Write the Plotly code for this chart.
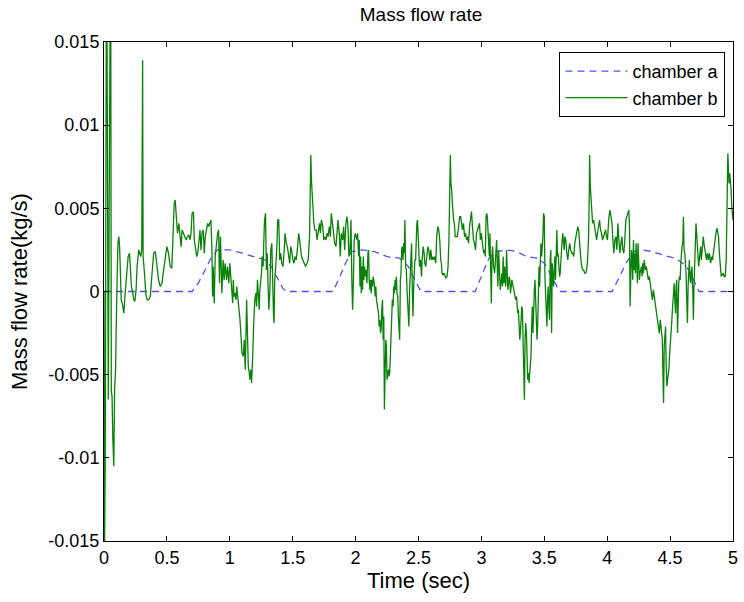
import numpy as np
import plotly.graph_objects as go

# ---- chamber a (kg/s) ----
a_time = [0.00, 0.70, 0.75, 0.80, 0.85, 0.90, 0.95, 1.00, 1.10, 1.20, 1.28, 1.33,
          1.38, 1.42, 1.45, 1.82, 1.87, 1.92, 1.97, 2.05, 2.15, 2.25, 2.35, 2.42,
          2.47, 2.52, 2.95, 3.00, 3.06, 3.12, 3.20, 3.28, 3.36, 3.44, 3.50, 3.56,
          3.62, 4.04, 4.10, 4.15, 4.21, 4.28, 4.36, 4.44, 4.54, 4.60, 4.65, 4.70,
          4.73, 5.00]
a_flow = [0.0, 0.0, 0.0005, 0.0013, 0.0020, 0.0025, 0.0025, 0.0025, 0.0023, 0.0021,
          0.0019, 0.0015, 0.0008, 0.0002, 0.0, 0.0, 0.0008, 0.0017, 0.0024, 0.0025,
          0.0024, 0.0021, 0.0020, 0.0015, 0.0007, 0.0, 0.0, 0.0009, 0.0020, 0.0024,
          0.0025, 0.0024, 0.0021, 0.0020, 0.0017, 0.0009, 0.0, 0.0, 0.0009, 0.0017,
          0.0024, 0.0025, 0.0024, 0.0022, 0.0020, 0.0017, 0.0013, 0.0005, 0.0, 0.0]

# ---- chamber b (g/s, converted to kg/s below) ----
b_time = [
    0.000, 0.004, 0.010, 0.018, 0.024, 0.028, 0.034, 0.048, 0.054, 0.058, 0.064, 0.070,
    0.078, 0.084, 0.092, 0.097, 0.100, 0.105, 0.111, 0.118, 0.124, 0.132, 0.137, 0.145,
    0.153, 0.158, 0.166, 0.176, 0.184, 0.192, 0.203, 0.211, 0.218, 0.229, 0.237, 0.245,
    0.255, 0.263, 0.276, 0.284, 0.292, 0.300, 0.304, 0.307, 0.311, 0.316, 0.324, 0.332,
    0.342, 0.355, 0.368, 0.382, 0.395, 0.408, 0.421, 0.434, 0.447, 0.461, 0.474, 0.487,
    0.500, 0.513, 0.526, 0.539, 0.547, 0.558, 0.566, 0.574, 0.584, 0.595, 0.605, 0.613,
    0.621, 0.632, 0.642, 0.653, 0.663, 0.674, 0.684, 0.692, 0.700, 0.711, 0.718, 0.726,
    0.737, 0.745, 0.755, 0.763, 0.771, 0.779, 0.789, 0.797, 0.805, 0.816, 0.824, 0.832,
    0.842, 0.850, 0.858, 0.863, 0.868, 0.876, 0.884, 0.895, 0.903, 0.911, 0.918, 0.926,
    0.937, 0.947, 0.955, 0.963, 0.974, 0.982, 0.992, 1.000,
    1.010, 1.015, 1.023, 1.028, 1.034, 1.041, 1.049, 1.055, 1.065, 1.076, 1.081, 1.089,
    1.097, 1.107, 1.115, 1.123, 1.128, 1.134, 1.139, 1.147, 1.155, 1.160, 1.168, 1.173,
    1.181, 1.186, 1.191, 1.199, 1.207, 1.213, 1.220, 1.228, 1.234, 1.239, 1.244, 1.252,
    1.257, 1.265, 1.270, 1.276, 1.284, 1.291, 1.297, 1.305, 1.310, 1.318, 1.326, 1.334,
    1.339, 1.347, 1.352, 1.357, 1.365, 1.373, 1.381, 1.389, 1.397, 1.405, 1.413, 1.423,
    1.431, 1.439, 1.449, 1.457, 1.465, 1.476, 1.484, 1.491, 1.502, 1.510, 1.518, 1.528,
    1.539, 1.547, 1.555, 1.563, 1.570, 1.581, 1.591, 1.602, 1.613, 1.623, 1.634, 1.639,
    1.644, 1.649, 1.655, 1.660, 1.668, 1.676, 1.686, 1.694, 1.702, 1.713, 1.720, 1.728,
    1.739, 1.747, 1.755, 1.765, 1.773, 1.781, 1.791, 1.799, 1.807, 1.818, 1.826, 1.834,
    1.844, 1.852, 1.860, 1.870, 1.878, 1.886, 1.897, 1.905, 1.913, 1.923, 1.931, 1.939,
    1.947, 1.955, 1.963, 1.970, 1.976, 1.981, 1.989, 1.997, 2.005,
    2.011, 2.016, 2.024, 2.029, 2.035, 2.040, 2.045, 2.050, 2.056, 2.061, 2.066, 2.071,
    2.077, 2.082, 2.090, 2.098, 2.103, 2.108, 2.114, 2.119, 2.124, 2.129, 2.135, 2.140,
    2.148, 2.156, 2.161, 2.166, 2.174, 2.182, 2.187, 2.192, 2.198, 2.203, 2.208, 2.214,
    2.219, 2.224, 2.229, 2.235, 2.240, 2.245, 2.250, 2.256, 2.261, 2.266, 2.271, 2.277,
    2.282, 2.287, 2.292, 2.298, 2.303, 2.308, 2.314, 2.319, 2.324, 2.329, 2.335, 2.340,
    2.345, 2.350, 2.356, 2.361, 2.366, 2.371, 2.377, 2.382, 2.387, 2.392, 2.398, 2.403,
    2.411, 2.419, 2.424, 2.429, 2.435, 2.440, 2.445, 2.450, 2.456, 2.461, 2.466, 2.471,
    2.477, 2.482, 2.487, 2.492, 2.498, 2.503, 2.508, 2.516, 2.524, 2.529, 2.537, 2.545,
    2.550, 2.558, 2.566, 2.574, 2.582, 2.590, 2.598, 2.606, 2.614, 2.621, 2.629, 2.637,
    2.645, 2.653, 2.661, 2.669, 2.677, 2.682, 2.687, 2.695, 2.703, 2.711, 2.719, 2.727,
    2.735, 2.742, 2.748, 2.753, 2.758, 2.764, 2.769, 2.774, 2.779, 2.785, 2.792, 2.800,
    2.808, 2.819, 2.827, 2.835, 2.842, 2.850, 2.858, 2.866, 2.874, 2.882, 2.890, 2.898,
    2.906, 2.914, 2.921, 2.929, 2.937, 2.945, 2.953, 2.961, 2.969, 2.977, 2.985, 2.992,
    3.000, 3.008,
    3.013, 3.018, 3.026, 3.031, 3.037, 3.042, 3.047, 3.052, 3.058, 3.063, 3.068, 3.073,
    3.079, 3.084, 3.089, 3.097, 3.105, 3.110, 3.116, 3.121, 3.126, 3.131, 3.137, 3.142,
    3.150, 3.158, 3.163, 3.168, 3.173, 3.179, 3.184, 3.189, 3.194, 3.200, 3.205, 3.210,
    3.216, 3.221, 3.226, 3.231, 3.237, 3.242, 3.247, 3.255, 3.263, 3.268, 3.273, 3.279,
    3.284, 3.289, 3.294, 3.300, 3.305, 3.310, 3.316, 3.321, 3.326, 3.331, 3.337, 3.342,
    3.347, 3.352, 3.358, 3.363, 3.368, 3.373, 3.379, 3.384, 3.389, 3.394, 3.400, 3.405,
    3.410, 3.416, 3.421, 3.426, 3.431, 3.437, 3.442, 3.447, 3.452, 3.458, 3.463, 3.468,
    3.473, 3.479, 3.484, 3.489, 3.494, 3.500, 3.505, 3.510, 3.516, 3.521, 3.526, 3.531,
    3.537, 3.542, 3.547, 3.552, 3.558, 3.563, 3.568, 3.573, 3.579, 3.584, 3.589, 3.594,
    3.600, 3.605, 3.610, 3.616, 3.621, 3.626, 3.631, 3.637, 3.642, 3.647, 3.652, 3.658,
    3.663, 3.671, 3.679, 3.687, 3.694, 3.702, 3.710, 3.718, 3.726, 3.734, 3.742, 3.750,
    3.758, 3.766, 3.773, 3.781, 3.789, 3.797, 3.805, 3.813, 3.821, 3.829, 3.837, 3.844,
    3.852, 3.858, 3.860, 3.866, 3.871, 3.876, 3.884, 3.892, 3.900, 3.908, 3.916, 3.923,
    3.931, 3.939, 3.947, 3.955, 3.963, 3.971, 3.979, 3.987, 3.994, 4.002,
    4.014, 4.022, 4.030, 4.038, 4.045, 4.053, 4.061, 4.069, 4.077, 4.085, 4.093, 4.101,
    4.109, 4.117, 4.124, 4.132, 4.140, 4.148, 4.156, 4.164, 4.172, 4.177, 4.182, 4.188,
    4.193, 4.198, 4.203, 4.209, 4.214, 4.219, 4.224, 4.230, 4.235, 4.240, 4.245, 4.251,
    4.256, 4.261, 4.267, 4.272, 4.277, 4.282, 4.288, 4.295, 4.303, 4.311, 4.319, 4.327,
    4.335, 4.343, 4.351, 4.359, 4.367, 4.374, 4.382, 4.390, 4.398, 4.406, 4.414, 4.422,
    4.427, 4.432, 4.438, 4.443, 4.448, 4.453, 4.459, 4.464, 4.469, 4.474, 4.480, 4.485,
    4.490, 4.495, 4.501, 4.506, 4.511, 4.517, 4.522, 4.527, 4.532, 4.538, 4.543, 4.548,
    4.553, 4.559, 4.564, 4.569, 4.574, 4.580, 4.585, 4.590, 4.595, 4.601, 4.606, 4.611,
    4.617, 4.622, 4.627, 4.632, 4.638, 4.643, 4.648, 4.653, 4.659, 4.664, 4.669, 4.674,
    4.680, 4.685, 4.690, 4.695, 4.701, 4.706, 4.711, 4.717, 4.722, 4.727, 4.732, 4.738,
    4.743, 4.748, 4.753, 4.759, 4.764, 4.769, 4.774, 4.780, 4.785, 4.790, 4.795, 4.801,
    4.806, 4.811, 4.817, 4.822, 4.827, 4.832, 4.838, 4.843, 4.848, 4.853, 4.859, 4.864,
    4.869, 4.874, 4.880, 4.885, 4.890, 4.895, 4.901, 4.906, 4.914, 4.922, 4.930, 4.938,
    4.946, 4.953, 4.959, 4.964, 4.969, 4.974, 4.980, 4.985, 4.990, 4.995, 5.000,
]
b_flow_gps = [
    0.0, -16.0, -10.0, 16.0, 16.0, -6.0, -6.5, 16.0, 16.0, -6.0, -6.3, -8.8,
    -10.5, -5.9, -4.7, -2.3, 0.5, 1.1, 2.9, 3.3, 2.7, 1.1, -0.5, -0.7,
    -1.1, -1.3, -0.3, 0.7, 1.1, 2.1, 2.3, 1.1, 0.3, -0.1, -0.5, -0.6,
    0.1, 1.5, 2.5, 2.3, 2.1, 2.5, 13.9, 13.9, 2.1, 1.3, 0.9, -0.1,
    -0.5, -0.5, -0.3, 1.1, 2.3, 2.4, 1.5, 0.7, 0.3, 0.5, 1.3, 2.1,
    2.7, 2.3, 1.5, 1.4, 2.7, 5.3, 5.5, 4.5, 3.5, 4.1, 3.1, 2.7,
    3.7, 3.5, 3.3, 3.1, 3.3, 3.4, 3.1, 3.5, 4.7, 4.8, 3.1, 2.5,
    2.1, 2.3, 3.1, 3.7, 2.5, 3.5, 3.7, 2.3, 3.3, 3.7, 4.1, 3.9,
    4.2, 4.3, 2.5, -0.3, 1.5, -0.7, 2.1, 3.1, 3.5, 3.7, 0.5, 3.3,
    -0.1, 1.9, 0.7, 1.7, 0.7, 1.5, 0.5, 1.7,
    0.7, -0.1, -0.7, 0.7, -0.3, -0.1, -0.5, 0.3, -0.3, -1.3, -1.7, -2.9,
    -3.7, -3.9, -2.9, -4.7, -2.1, -0.5, -2.1, -4.5, -4.9, -5.3, -4.7, -5.5,
    -4.1, -2.1, -1.7, -0.5, -0.1, -0.9, 0.7, -0.3, -1.1, 0.1, 0.5, 1.1,
    2.1, 1.5, 2.9, 4.3, 4.7, 1.3, 2.3, 0.7, -1.1, -0.1, 2.5, 2.9,
    0.7, -1.3, -1.9, 0.7, 1.5, 2.5, 4.3, 4.3, 1.9, 2.3, 1.7, 1.5,
    2.3, 3.5, 2.9, 2.7, 2.3, 1.7, 2.7, 2.5, 1.9, 1.7, 2.1, 1.9,
    2.7, 3.5, 3.1, 2.3, 2.1, 1.9, 1.7, 1.5, 1.7, 1.9, 3.3, 5.1,
    8.2, 6.7, 5.5, 4.5, 4.1, 3.7, 3.7, 3.1, 3.7, 4.1, 3.5, 4.3,
    3.9, 3.1, 3.3, 3.1, 3.5, 3.3, 3.9, 3.3, 4.7, 4.1, 3.5, 2.9,
    2.7, 3.7, 4.3, 3.5, 2.1, 3.5, 3.1, 3.9, 2.5, 4.1, 4.5, 3.9,
    2.1, 2.3, 4.3, 0.7, -1.1, 0.1, 3.1, 3.5, 3.1,
    3.1, 3.5, 2.1, 3.1, 0.3, 2.1, -0.1, 1.5, 0.1, 2.1, 0.7, 1.5,
    0.9, 1.3, 0.5, 2.3, 2.5, 0.7, 0.1, 0.7, -0.1, 0.7, 0.3, 0.9,
    0.5, -0.3, 0.3, -0.5, -0.9, -1.3, -2.1, -1.7, -2.5, -2.3, -1.1, -0.5,
    -2.9, -1.5, -7.1, -4.5, -2.9, -3.3, -5.3, -4.9, -4.7, -5.1, -4.9, -3.7,
    -2.7, -1.3, -0.5, -0.9, 0.3, -0.1, 0.7, 0.1, 0.9, -0.1, -0.3, -1.5,
    -2.7, -2.9, 0.7, 1.1, 2.5, 2.7, 1.9, 2.9, 2.3, 4.3, 1.5, 1.3,
    -0.3, -1.7, -2.1, 0.1, 1.3, 1.5, 2.9, 0.5, -1.5, 0.1, 1.1, 1.9,
    1.9, 3.9, 4.1, 4.3, 3.1, 1.5, 1.5, 1.9, 0.9, 1.9, 2.7, 2.3,
    1.7, 1.5, 2.1, 2.7, 2.5, 1.9, 2.5, 1.9, 2.1, 1.9, 2.1, 1.7,
    3.3, 3.9, 3.7, 3.1, 1.9, 1.7, 1.1, 1.0, 1.1, 0.9, 0.8, 0.9,
    1.5, 3.1, 5.1, 8.2, 6.5, 6.1, 5.3, 4.3, 4.3, 4.1, 3.3, 3.3,
    3.3, 3.9, 4.5, 4.5, 4.1, 3.7, 4.1, 3.3, 3.5, 3.1, 3.3, 2.9,
    3.9, 4.5, 4.8, 3.9, 3.1, 2.9, 2.5, 3.5, 3.7, 3.9, 4.1, 3.1,
    3.5, 2.9,
    2.7, 2.3, 2.5, 2.1, 4.5, 4.7, 4.5, 3.9, 3.1, 2.1, 3.5, 0.3,
    -0.7, 2.1, 2.7, 1.5, 1.1, 1.7, 2.7, 3.1, 1.5, 0.3, 2.5, 1.3,
    0.1, 0.7, 1.1, 0.3, 2.1, 0.5, 1.5, 0.7, 0.3, 2.5, 1.3, 0.1,
    0.5, 0.9, 0.7, -0.1, 0.3, 0.7, 0.5, 0.1, -0.1, -0.3, -0.5, -0.3,
    -0.9, -1.3, -1.1, -2.3, -2.9, -2.5, -1.5, -0.9, -1.1, -2.5, -3.7, -6.5,
    -2.9, -1.9, -2.5, -3.9, -5.3, -4.9, -5.5, -4.9, -4.5, -3.9, -1.9, -0.9,
    -2.5, -0.3, 0.1, 0.7, -0.9, -1.5, -2.9, -2.1, 0.7, 1.5, 0.3, 2.3,
    2.9, 2.1, 2.7, 3.3, 4.7, 4.5, 0.9, 0.1, -0.9, -2.1, -0.5, 0.3,
    -1.1, -1.7, 1.9, 2.5, -2.5, 1.7, 1.1, 0.3, 1.9, 2.1, 0.7, 2.1,
    3.7, 2.1, 2.3, 1.5, 0.9, 1.1, 2.1, 2.5, 3.1, 3.5, 2.9, 2.5,
    3.3, 3.1, 2.3, 1.9, 2.5, 2.9, 2.5, 2.3, 2.3, 2.1, 2.9, 3.3,
    3.5, 3.9, 3.7, 2.7, 2.1, 1.5, 1.3, 1.3, 1.1, 1.1, 1.3, 1.9,
    3.3, 6.1, 8.2, 6.3, 5.5, 4.5, 4.1, 4.3, 3.9, 3.3, 3.1, 3.5,
    3.9, 4.3, 3.7, 3.5, 3.1, 3.3, 3.5, 3.7, 3.3, 3.1,
    4.5, 4.9, 4.5, 4.1, 3.1, 2.3, 3.1, 3.3, 2.5, 4.1, 3.1, 2.3,
    2.9, 3.3, 2.5, 2.3, 3.1, 4.3, 4.5, 4.7, 4.9, 3.9, -0.9, 1.1,
    2.5, 2.1, 0.7, 3.1, 1.3, 2.3, 1.1, 2.9, 1.5, 0.5, 2.9, 1.9,
    0.7, 1.1, 1.3, 1.5, 0.9, 1.7, 1.1, 1.9, 1.3, 1.5, 1.1, 0.7,
    0.9, 0.3, -0.1, -0.5, 0.1, -0.3, -0.7, -1.3, -1.7, -2.1, -2.5, -1.7,
    -2.1, -2.5, -2.9, -4.9, -6.7, -3.3, -2.3, -2.1, -4.5, -5.7, -5.3, -5.1,
    -4.7, -3.9, -2.9, -2.3, -2.1, -1.3, -0.5, -0.1, 0.5, -0.5, -1.3, 0.3,
    0.7, -2.5, -0.5, 0.5, 0.9, 0.7, 1.7, 2.5, 2.7, 2.9, 4.5, 2.5,
    2.3, 1.7, 1.1, -0.5, -1.9, 0.3, 1.3, 1.9, 0.7, 0.5, 1.1, 1.5,
    0.1, -1.7, 0.3, 1.9, 3.1, 4.1, 3.5, 2.5, 1.9, 1.5, 1.9, 2.3,
    2.7, 1.9, 2.5, 3.1, 3.3, 2.9, 2.5, 2.3, 2.1, 1.9, 2.3, 2.1,
    1.9, 2.3, 2.1, 1.7, 1.9, 2.1, 1.9, 2.3, 2.5, 2.9, 3.1, 3.5,
    3.7, 3.8, 3.5, 3.3, 2.5, 1.7, 1.1, 0.9, 1.0, 1.1, 0.9, 0.9,
    1.9, 5.1, 8.3, 7.3, 6.5, 7.1, 6.7, 6.1, 5.1, 4.7, 4.3,
]

x_ticks = [0, 0.5, 1, 1.5, 2, 2.5, 3, 3.5, 4, 4.5, 5]
x_tick_text = ["0", "0.5", "1", "1.5", "2", "2.5", "3", "3.5", "4", "4.5", "5"]
y_ticks = [-0.015, -0.01, -0.005, 0, 0.005, 0.01, 0.015]
y_tick_text = ["-0.015", "-0.01", "-0.005", "0", "0.005", "0.01", "0.015"]

b_flow = np.array(b_flow_gps) * 1e-3

font_family = "Liberation Sans, Arial, sans-serif"

fig = go.Figure()
fig.add_trace(go.Scatter(
    x=a_time, y=a_flow, mode="lines", name="chamber a",
    line=dict(color="#5050ff", width=1.3, dash="7px,5px"),
))
fig.add_trace(go.Scatter(
    x=b_time, y=b_flow, mode="lines", name="chamber b",
    line=dict(color="#0a820a", width=1.3),
))

axis_common = dict(
    showline=True, linecolor="black", linewidth=1, mirror="ticks",
    ticks="inside", ticklen=5, tickcolor="black", showgrid=False, zeroline=False,
    tickfont=dict(family=font_family, size=18, color="black"),
)

fig.update_layout(
    width=744, height=602,
    margin=dict(l=104, r=6, t=42, b=61),
    paper_bgcolor="white", plot_bgcolor="white",
    title=dict(text="Mass flow rate", x=(104 + 738) / 2 / 744, xanchor="center",
               y=1 - 14 / 602, yanchor="middle",
               font=dict(family=font_family, size=19, color="black")),
    xaxis=dict(range=[0, 5], tickvals=x_ticks, ticktext=x_tick_text,
               title=dict(text="Time (sec)", standoff=2,
                          font=dict(family=font_family, size=22, color="black")),
               **axis_common),
    yaxis=dict(range=[-0.015, 0.015], tickvals=y_ticks, ticktext=y_tick_text,
               title=dict(text="Mass flow rate(kg/s)", standoff=14,
                          font=dict(family=font_family, size=22, color="black")),
               **axis_common),
    legend=dict(x=0.988, y=0.98, xanchor="right", yanchor="top",
                bordercolor="black", borderwidth=1, bgcolor="white",
                font=dict(family=font_family, size=18, color="black"),
                tracegroupgap=0, itemwidth=62),
    showlegend=True,
)

fig.write_html("out.html")
